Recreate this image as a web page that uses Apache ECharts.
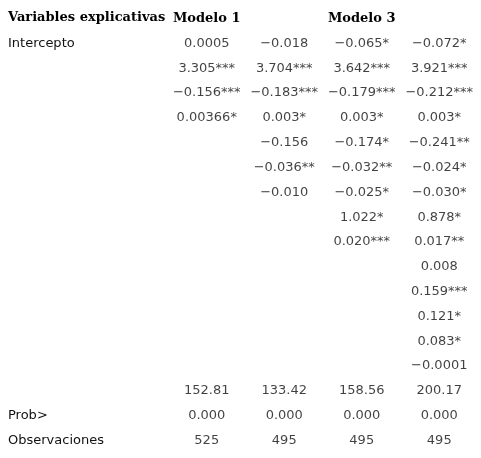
<!DOCTYPE html>
<html>
<head>
<meta charset="utf-8">
<script src="https://cdn.jsdelivr.net/npm/echarts@6/dist/echarts.min.js"></script>
<style>html,body{margin:0;padding:0;background:#fff}#chart{width:481px;height:458px}</style>
</head>
<body>
<div id="chart"></div>
<script>
const headerLabel = 'Variables explicativas';
const models = ['Modelo 1', 'Modelo 2', 'Modelo 3', 'Modelo 4'];
const rowLabels = ['Intercepto', '', '', '', '', '', '', '', '', '', '', '', '', '', '', 'Prob>', 'Observaciones'];
// one array per model, aligned with rowLabels ('' = empty cell)
const modelo1 = ['0.0005', '3.305***', '\u22120.156***', '0.00366*', '', '', '', '', '', '', '', '', '', '', '152.81', '0.000', '525'];
const modelo2 = ['\u22120.018', '3.704***', '\u22120.183***', '0.003*', '\u22120.156', '\u22120.036**', '\u22120.010', '', '', '', '', '', '', '', '133.42', '0.000', '495'];
const modelo3 = ['\u22120.065*', '3.642***', '\u22120.179***', '0.003*', '\u22120.174*', '\u22120.032**', '\u22120.025*', '1.022*', '0.020***', '', '', '', '', '', '158.56', '0.000', '495'];
const modelo4 = ['\u22120.072*', '3.921***', '\u22120.212***', '0.003*', '\u22120.241**', '\u22120.024*', '\u22120.030*', '0.878*', '0.017**', '0.008', '0.159***', '0.121*', '0.083*', '\u22120.0001', '200.17', '0.000', '495'];

const columns = [modelo1, modelo2, modelo3, modelo4];
const cells = [];
columns.forEach((col, c) => col.forEach((v, r) => { if (v) cells.push([c, r, v]); }));

const chart = echarts.init(document.getElementById('chart'));
chart.setOption({
  animation: false,
  grid: { left: 168, top: 31, width: 310, height: 422 },
  xAxis: {
    type: 'category', position: 'top', data: models,
    axisLine: { show: false }, axisTick: { show: false }, splitLine: { show: false },
    axisLabel: { margin: 6, color: '#000', fontFamily: 'DejaVu Serif', fontWeight: 'bold', fontSize: 13 }
  },
  yAxis: {
    type: 'category', inverse: true, data: rowLabels,
    axisLine: { show: false }, axisTick: { show: false }, splitLine: { show: false },
    axisLabel: { align: 'left', margin: 160, color: '#111', fontFamily: 'DejaVu Sans', fontSize: 13, interval: 0 }
  },
  graphic: [{
    type: 'text', left: 8, top: 11,
    style: { text: headerLabel, font: 'bold 13px "DejaVu Serif"', fill: '#000' }
  }],
  series: [{
    type: 'scatter', symbolSize: 0, data: cells,
    label: {
      show: true, position: 'inside', color: '#111', fontFamily: 'DejaVu Sans', fontSize: 13,
      formatter: p => p.data[2]
    }
  }]
});
</script>
</body>
</html>
